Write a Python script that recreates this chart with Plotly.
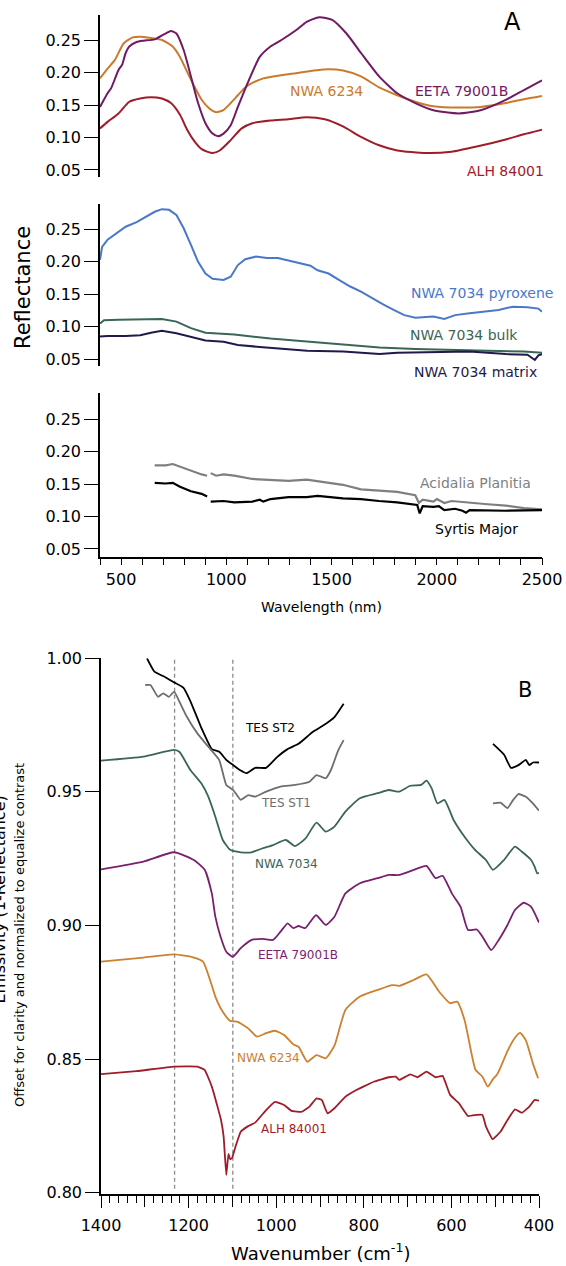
import plotly.graph_objects as go

W, H = 566, 1266

# ---------------- Panel A (top): meteorite reflectance ----------------
eeta_wl = [400, 436, 453, 488, 505, 522, 539, 574, 608, 660, 711, 737, 763, 797, 832, 866, 901, 935, 961, 987,
           1021, 1055, 1107, 1159, 1210, 1262, 1331, 1382, 1442, 1503, 1571, 1640, 1726, 1812, 1898, 1984,
           2105, 2208, 2328, 2414, 2500]
eeta_r = [0.147, 0.168, 0.176, 0.204, 0.212, 0.230, 0.240, 0.247, 0.249, 0.251, 0.260, 0.264, 0.260, 0.235,
          0.194, 0.153, 0.122, 0.106, 0.102, 0.106, 0.119, 0.147, 0.188, 0.224, 0.240, 0.250, 0.265, 0.278,
          0.285, 0.281, 0.260, 0.230, 0.194, 0.168, 0.153, 0.142, 0.137, 0.142, 0.158, 0.173, 0.188]

nwa6234_wl = [400, 436, 470, 513, 556, 591, 642, 694, 745, 780, 814, 849, 883, 918, 952, 986, 1021, 1055, 1090,
              1124, 1176, 1245, 1331, 1417, 1486, 1555, 1640, 1726, 1812, 1898, 1984, 2105, 2208, 2328, 2414, 2500]
nwa6234_r = [0.191, 0.206, 0.219, 0.245, 0.254, 0.255, 0.253, 0.250, 0.240, 0.224, 0.201, 0.178, 0.158, 0.145,
             0.139, 0.142, 0.153, 0.165, 0.177, 0.184, 0.191, 0.195, 0.199, 0.203, 0.205, 0.203, 0.194, 0.177,
             0.165, 0.155, 0.148, 0.146, 0.147, 0.153, 0.159, 0.164]

alh_wl = [400, 436, 488, 539, 591, 642, 694, 737, 780, 814, 849, 883, 935, 969, 1021, 1073, 1124, 1210, 1296,
          1382, 1468, 1554, 1640, 1726, 1812, 1950, 2070, 2190, 2328, 2414, 2500]
alh_r = [0.114, 0.124, 0.137, 0.155, 0.160, 0.162, 0.160, 0.153, 0.135, 0.112, 0.094, 0.082, 0.076, 0.080,
         0.096, 0.114, 0.122, 0.126, 0.128, 0.131, 0.128, 0.117, 0.101, 0.088, 0.080, 0.076, 0.078, 0.086,
         0.097, 0.105, 0.112]

# ---------------- Panel A (middle): NWA 7034 ----------------
pyx_wl = [400, 410, 436, 470, 522, 574, 625, 660, 694, 728, 763, 797, 832, 866, 901, 935, 987, 1021, 1055, 1090,
          1141, 1193, 1245, 1296, 1348, 1400, 1434, 1486, 1537, 1589, 1640, 1692, 1743, 1795, 1846, 1898, 1984,
          2036, 2087, 2156, 2225, 2294, 2362, 2431, 2483, 2500]
pyx_r = [0.203, 0.223, 0.234, 0.242, 0.254, 0.261, 0.270, 0.277, 0.281, 0.280, 0.272, 0.252, 0.226, 0.200,
         0.182, 0.174, 0.172, 0.177, 0.195, 0.204, 0.208, 0.206, 0.206, 0.202, 0.197, 0.194, 0.187, 0.182,
         0.172, 0.162, 0.154, 0.144, 0.135, 0.126, 0.118, 0.114, 0.116, 0.112, 0.118, 0.121, 0.123, 0.126,
         0.131, 0.130, 0.128, 0.123]

bulk_wl = [400, 419, 488, 608, 694, 763, 832, 901, 1038, 1210, 1384, 1556, 1728, 1898, 2070, 2244, 2414, 2500]
bulk_r = [0.105, 0.110, 0.111, 0.111, 0.112, 0.108, 0.098, 0.091, 0.088, 0.082, 0.077, 0.072, 0.068, 0.066,
          0.064, 0.063, 0.062, 0.060]

matrix_wl = [400, 436, 522, 591, 642, 694, 763, 832, 901, 987, 1055, 1159, 1262, 1384, 1556, 1728, 1812, 1984,
             2156, 2328, 2431, 2466, 2483, 2500]
matrix_r = [0.085, 0.086, 0.086, 0.087, 0.091, 0.094, 0.090, 0.085, 0.079, 0.077, 0.072, 0.069, 0.066, 0.063,
            0.062, 0.058, 0.060, 0.061, 0.062, 0.058, 0.057, 0.049, 0.056, 0.058]

# ---------------- Panel A (bottom): Mars regions ----------------
acid_wl = [660, 711, 746, 780, 832, 883, 909, None, 926, 952, 987, 1038, 1124, 1210, 1296, 1382, 1468, 1554,
           1640, 1726, 1812, 1898, 1915, 1933, 1984, 2001, 2036, 2070, 2156, 2242, 2328, 2414, 2500]
acid_r = [0.179, 0.179, 0.181, 0.177, 0.170, 0.165, 0.163, None, 0.167, 0.163, 0.165, 0.163, 0.158, 0.157,
          0.155, 0.157, 0.153, 0.149, 0.142, 0.140, 0.138, 0.133, 0.121, 0.126, 0.123, 0.127, 0.121, 0.124,
          0.121, 0.119, 0.117, 0.113, 0.111]

syrtis_wl = [660, 711, 746, 780, 832, 883, 909, None, 926, 987, 1038, 1124, 1159, 1176, 1210, 1296, 1382, 1434,
             1554, 1640, 1726, 1812, 1907, 1919, 1933, 1984, 2010, 2036, 2087, 2122, 2139, 2156, 2328, 2500]
syrtis_r = [0.152, 0.151, 0.152, 0.146, 0.139, 0.135, 0.131, None, 0.123, 0.124, 0.122, 0.123, 0.126, 0.123,
            0.127, 0.130, 0.130, 0.132, 0.128, 0.127, 0.124, 0.122, 0.118, 0.105, 0.116, 0.115, 0.116, 0.110,
            0.112, 0.109, 0.106, 0.110, 0.109, 0.110]

# ---------------- Panel B: emissivity ----------------
st2_wn = [1295, 1278, 1254, 1233, 1212, 1196, 1171, 1147, 1130, 1114, 1098, 1081, 1068, 1048, 1023, 998, 974,
          949, 916, 891, 867, 846, None, 505, 480, 464, 447, 430, 422, 414, 400]
st2_e = [1.000, 0.995, 0.993, 0.991, 0.989, 0.984, 0.974, 0.966, 0.965, 0.962, 0.960, 0.958, 0.957, 0.959,
         0.959, 0.963, 0.966, 0.968, 0.9725, 0.975, 0.978, 0.983, None, 0.968, 0.964, 0.959, 0.960, 0.962,
         0.960, 0.961, 0.961]

st1_wn = [1299, 1287, 1270, 1258, 1245, 1233, 1221, 1204, 1180, 1155, 1130, 1114, 1098, 1081, 1064, 1048, 1023,
          990, 957, 924, 908, 887, 875, 858, 846, None, 505, 488, 472, 459, 447, 430, 414, 400]
st1_e = [0.990, 0.990, 0.9856, 0.9869, 0.9856, 0.9875, 0.9838, 0.9781, 0.9719, 0.9669, 0.9619, 0.9526, 0.9507,
         0.947, 0.9488, 0.9482, 0.9501, 0.952, 0.9526, 0.9538, 0.9563, 0.9551, 0.9582, 0.9657, 0.9694, None,
         0.9457, 0.946, 0.9439, 0.947, 0.9492, 0.9482, 0.9457, 0.943]

n7034_wn = [1400, 1303, 1233, 1221, 1196, 1171, 1155, 1139, 1122, 1105, 1081, 1056, 1031, 1007, 978, 957, 933,
            908, 887, 867, 842, 809, 768, 743, 719, 694, 669, 657, 645, 632, 616, 595, 570, 546, 521, 505, 480,
            455, 439, 418, 410, 404, 400]
n7034_e = [0.9617, 0.9632, 0.9657, 0.965, 0.9582, 0.9532, 0.9482, 0.9407, 0.932, 0.9283, 0.9274, 0.9274,
           0.9289, 0.9301, 0.932, 0.9297, 0.9326, 0.9385, 0.9351, 0.937, 0.9426, 0.9476, 0.9495, 0.9507,
           0.9501, 0.9523, 0.9526, 0.9542, 0.9513, 0.9457, 0.947, 0.9395, 0.9332, 0.9283, 0.9245, 0.9208,
           0.9245, 0.9295, 0.9276, 0.9245, 0.9220, 0.9195, 0.9197]

eetaB_wn = [1400, 1303, 1233, 1188, 1163, 1147, 1139, 1127, 1114, 1099, 1081, 1056, 1031, 1007, 990, 974, 961,
            949, 934, 909, 887, 867, 842, 809, 768, 743, 719, 686, 657, 636, 620, 599, 579, 562, 542, 529, 509,
            492, 472, 455, 435, 418, 400]
eetaB_e = [0.921, 0.9239, 0.9274, 0.9245, 0.9208, 0.912, 0.9033, 0.8958, 0.8902, 0.8883, 0.8915, 0.8946,
           0.895, 0.8946, 0.8977, 0.9008, 0.899, 0.8998, 0.899, 0.9039, 0.9002, 0.9033, 0.912, 0.9158, 0.9177,
           0.9189, 0.9189, 0.9208, 0.9223, 0.9177, 0.9186, 0.912, 0.907, 0.8983, 0.8985, 0.8958, 0.8908,
           0.8946, 0.9002, 0.9058, 0.9085, 0.907, 0.9011]

n6234B_wn = [1400, 1303, 1233, 1188, 1167, 1151, 1139, 1122, 1105, 1089, 1064, 1044, 1023, 1003, 982, 961, 949,
             929, 908, 887, 867, 842, 809, 768, 735, 719, 686, 657, 628, 603, 587, 570, 554, 545, 529, 517, 505,
             496, 485, 472, 455, 443, 430, 414, 402]
n6234B_e = [0.8865, 0.888, 0.8892, 0.888, 0.8865, 0.8796, 0.8734, 0.8677, 0.8643, 0.864, 0.8615, 0.8584,
            0.8597, 0.8606, 0.859, 0.8555, 0.8546, 0.849, 0.8515, 0.8503, 0.855, 0.8684, 0.8734, 0.8759,
            0.8777, 0.8774, 0.8796, 0.8817, 0.8752, 0.8709, 0.8715, 0.8646, 0.852, 0.846, 0.8434, 0.8397,
            0.8425, 0.8441, 0.848, 0.853, 0.858, 0.8598, 0.857, 0.8484, 0.8428]

alhB_wn = [1400, 1319, 1233, 1180, 1163, 1147, 1134, 1126, 1120, 1114, 1109, 1105, 1101, 1093, 1081, 1064, 1048,
           1023, 1003, 982, 965, 941, 924, 908, 896, 883, 867, 842, 817, 801, 776, 743, 727, 719, 694, 677, 657,
           636, 620, 603, 583, 562, 542, 529, 521, 506, 488, 472, 455, 439, 422, 410, 400]
alhB_e = [0.8444, 0.8455, 0.8472, 0.8472, 0.8459, 0.8397, 0.8322, 0.8272, 0.821, 0.8066, 0.8145, 0.8125,
          0.8129, 0.8172, 0.8228, 0.8249, 0.8262, 0.8309, 0.834, 0.8328, 0.8306, 0.8303, 0.8322, 0.8353,
          0.8347, 0.8297, 0.8316, 0.8359, 0.8384, 0.8397, 0.8416, 0.8432, 0.8434, 0.8422, 0.8443, 0.8432,
          0.8453, 0.8432, 0.8437, 0.8366, 0.8335, 0.8287, 0.8291, 0.8291, 0.8247, 0.82, 0.8228, 0.8272,
          0.8312, 0.8299, 0.8322, 0.8347, 0.8344]

dash_wn = [1232, 1099]
dash_span = [0.8015, 1.0]

refl_ticks = [0.05, 0.10, 0.15, 0.20, 0.25]
emis_ticks = [0.80, 0.85, 0.90, 0.95, 1.00]
wl_major = [500, 1000, 1500, 2000, 2500]
wn_major = [400, 600, 800, 1000, 1200, 1400]
wn_mid = [500, 700, 900, 1100, 1300]

FONT = "DejaVu Sans"
C_EETA, C_6234, C_ALH = "#701A63", "#C97B2D", "#A01C2A"
C_PYX, C_BULK, C_MAT = "#4A78C9", "#3A6655", "#1E1A4B"
C_GREY = "#7F7F7F"

fig = go.Figure()


def line(x, y, color, ax, width=2.0, shape="linear", dash=None, smooth=None, xa=None):
    ln = dict(color=color, width=width, shape=shape)
    if dash:
        ln["dash"] = dash
    if smooth is not None:
        ln["smoothing"] = smooth
    fig.add_trace(go.Scatter(x=x, y=y, mode="lines", line=ln, xaxis=xa or ("x" + ax), yaxis="y" + ax,
                             showlegend=False, hoverinfo="skip", connectgaps=False))


line(nwa6234_wl, nwa6234_r, C_6234, "", shape="spline", smooth=0.6)
line(eeta_wl, eeta_r, C_EETA, "", shape="spline", smooth=0.6)
line(alh_wl, alh_r, C_ALH, "", shape="spline", smooth=0.6)

line(pyx_wl, pyx_r, C_PYX, "2")
line(bulk_wl, bulk_r, C_BULK, "2")
line(matrix_wl, matrix_r, C_MAT, "2")

line(acid_wl, acid_r, C_GREY, "3", width=2.2)
line(syrtis_wl, syrtis_r, "#000000", "3", width=2.2)

for w in dash_wn:
    line([w, w], dash_span, "#8A8A8A", "4", width=1.3, dash="4px,3px")
line(st2_wn, st2_e, "#000000", "4", width=1.8, shape="spline", smooth=0.4)
line(st1_wn, st1_e, "#6E6E6E", "4", width=1.8, shape="spline", smooth=0.4)
line(n7034_wn, n7034_e, C_BULK, "4", width=1.8, shape="spline", smooth=0.5)
line(eetaB_wn, eetaB_e, "#7A1F6E", "4", width=1.8, shape="spline", smooth=0.5)
line(n6234B_wn, n6234B_e, "#CC8030", "4", width=1.8, shape="spline", smooth=0.5)
line(alhB_wn, alhB_e, C_ALH, "4", width=1.8, shape="spline", smooth=0.3)
# invisible carrier trace for the overlay axis with the mid (unlabelled) ticks
fig.add_trace(go.Scatter(x=[1400, 400], y=[None, None], mode="lines", xaxis="x5", yaxis="y4",
                         showlegend=False, hoverinfo="skip"))


def px2x(px):
    return px / W


def py2y(py):
    return 1 - py / H


xdomA = [px2x(100), px2x(542)]
xdomB = [px2x(101), px2x(539)]

yax_common = dict(showline=True, linecolor="black", linewidth=1.5, ticks="outside", ticklen=14,
                  tickwidth=1.3, tickcolor="black", showgrid=False, zeroline=False,
                  tickfont=dict(family=FONT, size=16, color="black"), automargin=False)

fig.update_layout(
    width=W, height=H, margin=dict(l=0, r=0, t=0, b=0),
    paper_bgcolor="white", plot_bgcolor="white",
    font=dict(family=FONT, color="black"),
    xaxis=dict(domain=xdomA, range=[400, 2500], visible=False, anchor="y"),
    yaxis=dict(domain=[py2y(177), py2y(15)], range=[0.0392, 0.2885], tickvals=refl_ticks,
               ticktext=["%.2f" % v for v in refl_ticks], anchor="x", **yax_common),
    xaxis2=dict(domain=xdomA, range=[400, 2500], visible=False, anchor="y2"),
    yaxis2=dict(domain=[py2y(366), py2y(204.3)], range=[0.0397, 0.2885], tickvals=refl_ticks,
                ticktext=["%.2f" % v for v in refl_ticks], anchor="x2", **yax_common),
    xaxis3=dict(domain=xdomA, range=[400, 2500], anchor="y3", showline=True, linecolor="black",
                linewidth=1.5, ticks="outside", ticklen=7, tickwidth=1.3, tickcolor="black",
                tickvals=wl_major, ticktext=[str(v) for v in wl_major], showgrid=False, zeroline=False,
                minor=dict(tickmode="linear", tick0=400, dtick=100, ticks="outside", ticklen=7,
                           tickwidth=1.3, tickcolor="black", showgrid=False),
                tickfont=dict(family=FONT, size=16, color="black"), automargin=False),
    yaxis3=dict(domain=[py2y(556.7), py2y(393.3)], range=[0.0381, 0.2901], tickvals=refl_ticks,
                ticktext=["%.2f" % v for v in refl_ticks], anchor="x3", **yax_common),
    xaxis4=dict(domain=xdomB, range=[1400, 400], anchor="y4", showline=True, linecolor="black",
                linewidth=1.5, ticks="outside", ticklen=12, tickwidth=1.3, tickcolor="black",
                tickvals=wn_major, ticktext=[str(v) for v in wn_major], showgrid=False, zeroline=False,
                ticklabelstandoff=4,
                minor=dict(tickmode="linear", tick0=400, dtick=20, ticks="outside", ticklen=7,
                           tickwidth=1.2, tickcolor="black", showgrid=False),
                tickfont=dict(family=FONT, size=16, color="black"), automargin=False),
    xaxis5=dict(domain=xdomB, range=[1400, 400], anchor="y4", overlaying="x4", side="bottom",
                showline=False, ticks="outside", ticklen=12, tickwidth=1.3, tickcolor="black",
                tickvals=wn_mid, showticklabels=False, showgrid=False, zeroline=False, automargin=False),
    yaxis4=dict(domain=[py2y(1194), py2y(658.3)], range=[0.7995, 1.0], tickvals=emis_ticks,
                ticktext=["%.2f" % v for v in emis_ticks], anchor="x4", **yax_common),
)

anns = [
    ("A", 512, 22, 24, "black"),
    ("NWA 6234", 326, 91, 14, C_6234),
    ("EETA 79001B", 461, 91, 14, C_EETA),
    ("ALH 84001", 505, 171, 14, C_ALH),
    ("NWA 7034 pyroxene", 482, 293, 14, C_PYX),
    ("NWA 7034 bulk", 464, 335, 14, C_BULK),
    ("NWA 7034 matrix", 475, 372, 14, C_MAT),
    ("Acidalia Planitia", 475, 483, 14, C_GREY),
    ("Syrtis Major", 476, 529, 14, "black"),
    ("Wavelength (nm)", 321, 607, 14, "black"),
    ("B", 525, 690, 21, "black"),
    ("TES ST2", 270, 728, 12, "black"),
    ("TES ST1", 286, 803, 12, "#6E6E6E"),
    ("NWA 7034", 286, 864, 12, C_BULK),
    ("EETA 79001B", 298, 955, 12, "#7A1F6E"),
    ("NWA 6234", 268, 1058, 12, "#CC8030"),
    ("ALH 84001", 294, 1129, 12, C_ALH),
    ("Wavenumber (cm<sup>-1</sup>)", 320, 1252, 18, "black"),
]
for text, px, py, size, color in anns:
    fig.add_annotation(text=text, x=px2x(px), y=py2y(py), xref="paper", yref="paper", showarrow=False,
                       xanchor="center", yanchor="middle", font=dict(family=FONT, size=size, color=color))

fig.add_annotation(text="Reflectance", x=px2x(23), y=py2y(288), xref="paper", yref="paper",
                   showarrow=False, textangle=-90, xanchor="center", yanchor="middle",
                   font=dict(family=FONT, size=21, color="black"))
fig.add_annotation(text="Offset for clarity and normalized to equalize contrast", x=px2x(20), y=py2y(935),
                   xref="paper", yref="paper", showarrow=False, textangle=-90, xanchor="center",
                   yanchor="middle", font=dict(family=FONT, size=13, color="black"))
fig.add_annotation(text="Emissivity (1-Reflectance)", x=px2x(-1.5), y=py2y(900),
                   xref="paper", yref="paper", showarrow=False, textangle=-90, xanchor="center",
                   yanchor="middle", font=dict(family=FONT, size=16, color="black"))

fig.write_html("out.html", config={"displayModeBar": False},
               post_script="document.body.style.margin='0px';document.body.style.overflow='hidden';")
